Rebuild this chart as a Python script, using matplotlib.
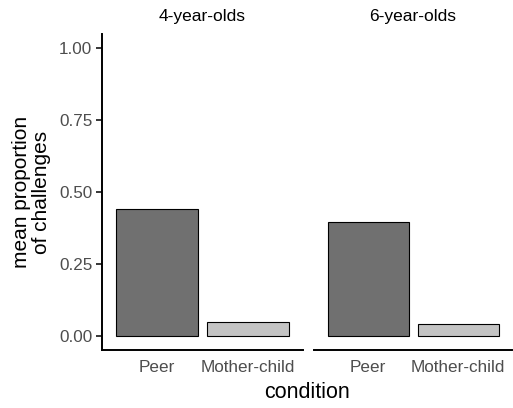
import matplotlib
matplotlib.use('Agg')
import matplotlib.pyplot as plt

plt.rcParams['font.family'] = ['Liberation Sans', 'DejaVu Sans']

# data
ages = ['4-year-olds', '6-year-olds']
conditions = ['Peer', 'Mother-child']
means = {'4-year-olds': [0.441, 0.046],
         '6-year-olds': [0.394, 0.039]}
bar_colors = ['#707070', '#c4c4c4']
y_ticks = [0.0, 0.25, 0.5, 0.75, 1.0]
y_labels = ['0.00', '0.25', '0.50', '0.75', '1.00']

fig = plt.figure(figsize=(5.13, 4.08), dpi=100)
W, H = 513, 408
top, bottom = 34, 350
panels = [(102, 303), (314, 512)]

for i, age in enumerate(ages):
    x0, x1 = panels[i]
    ax = fig.add_axes([x0 / W, 1 - bottom / H, (x1 - x0) / W, (bottom - top) / H])
    xs = list(range(1, len(conditions) + 1))
    ax.bar(xs, means[age], width=0.9, color=bar_colors,
           edgecolor='black', linewidth=0.8)
    ax.set_xlim(0.4, 2.6)
    ax.set_ylim(-0.05, 1.05)
    ax.set_xticks(xs)
    ax.set_xticklabels(conditions)
    ax.tick_params(axis='x', length=0, pad=7, labelsize=12.3, labelcolor='#4d4d4d')
    for s in ['top', 'right']:
        ax.spines[s].set_visible(False)
    ax.spines['bottom'].set_linewidth(1.4)
    ax.spines['left'].set_linewidth(1.4)
    if i == 0:
        ax.set_yticks(y_ticks)
        ax.set_yticklabels(y_labels)
        ax.tick_params(axis='y', length=4, width=1.1, pad=3, labelsize=12.3,
                       labelcolor='#4d4d4d')
        ax.set_ylabel('mean proportion\nof challenges', fontsize=15,
                      linespacing=1.02, labelpad=6)
    else:
        ax.spines['left'].set_visible(False)
        ax.set_yticks([])
    ax.set_title(age, fontsize=12.5, pad=9)

fig.text((102 + 512) / 2 / W, 1 - 393 / H, 'condition', fontsize=15.5,
         ha='center', va='center')

fig.savefig('out.png', dpi=100)
